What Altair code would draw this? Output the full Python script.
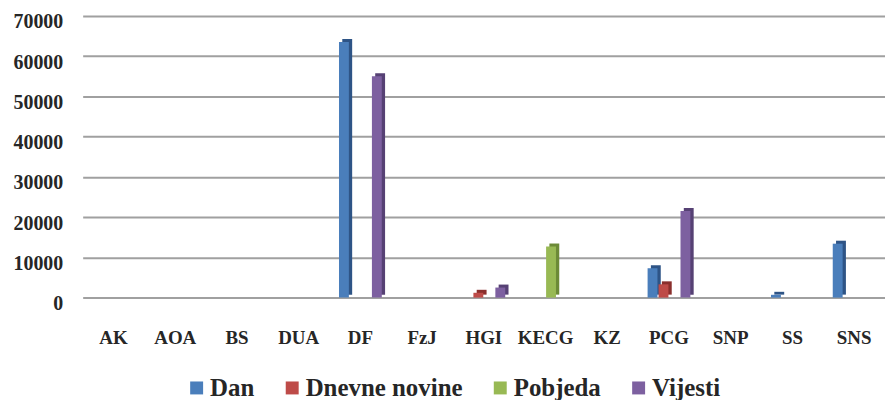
import altair as alt
import pandas as pd

categories = ["AK", "AOA", "BS", "DUA", "DF", "FzJ", "HGI", "KECG", "KZ", "PCG", "SNP", "SS", "SNS"]
series = ["Dan", "Dnevne novine", "Pobjeda", "Vijesti"]
colors = ["#4A7EBB", "#BE4B48", "#98B954", "#7D60A0"]
side_colors = ["#2E5486", "#8A2F2D", "#6C8A37", "#564174"]

dan = [0, 0, 0, 0, 63500, 0, 0, 0, 0, 7300, 0, 700, 13400]
dnevne = [0, 0, 0, 0, 0, 0, 1200, 0, 0, 3300, 0, 0, 0]
pobjeda = [0, 0, 0, 0, 0, 0, 0, 12700, 0, 0, 0, 0, 0]
vijesti = [0, 0, 0, 0, 55000, 0, 2500, 0, 0, 21500, 0, 0, 0]

rows = []
for s, vals in zip(series, [dan, dnevne, pobjeda, vijesti]):
    for c, v in zip(categories, vals):
        rows.append({"cat": c, "series": s, "value": v})
df = pd.DataFrame(rows)

FONT = "Liberation Serif"
TXT = "#262626"

x = alt.X("cat:N", sort=categories,
          scale=alt.Scale(domain=categories, paddingInner=0.2, paddingOuter=0.1),
          axis=alt.Axis(title=None, labelAngle=0, labelFont=FONT, labelFontWeight="bold",
                        labelFontSize=19, labelColor=TXT, labelPadding=31,
                        ticks=False, domain=False, grid=False))
y = alt.Y("value:Q", scale=alt.Scale(domain=[0, 70000], nice=False),
          axis=alt.Axis(title=None, values=list(range(0, 70001, 10000)), format="d",
                        labelFont=FONT, labelFontWeight="bold", labelFontSize=20,
                        labelColor=TXT, labelPadding=20, labelOffset=6,
                        ticks=False, domain=False, gridColor="#A0A0A0", gridWidth=2))

side = alt.Chart(df).mark_bar(yOffset=-3, y2Offset=-3).encode(
    x=x,
    xOffset=alt.XOffset("series:N", scale=alt.Scale(domain=series, paddingInner=0.1,
                                                    paddingOuter=0.3, align=1)),
    y=y,
    color=alt.Color("series:N", scale=alt.Scale(domain=series, range=side_colors), legend=None),
)

front = alt.Chart(df).mark_bar().encode(
    x=x,
    xOffset=alt.XOffset("series:N", scale=alt.Scale(domain=series, paddingInner=0.1,
                                                    paddingOuter=0.3, align=0.5)),
    y=y,
    color=alt.Color("series:N", scale=alt.Scale(domain=series, range=colors),
                    legend=alt.Legend(title=None, orient="none", direction="horizontal",
                                      legendX=102, legendY=361, symbolType="square",
                                      symbolSize=169, symbolStrokeWidth=0,
                                      labelFont=FONT, labelFontWeight="bold",
                                      labelFontSize=25, labelColor=TXT,
                                      columnPadding=25, symbolOffset=0, labelOffset=1)),
)

chart = alt.layer(side, front).resolve_scale(color="independent", xOffset="independent").properties(
    width=806, height=283,
    autosize=alt.AutoSizeParams(type="none"),
    padding={"left": 75, "top": 7, "right": 0, "bottom": 120},
).configure_view(stroke=None)

chart.save("out.html", embed_options={"renderer": "svg", "actions": False})
